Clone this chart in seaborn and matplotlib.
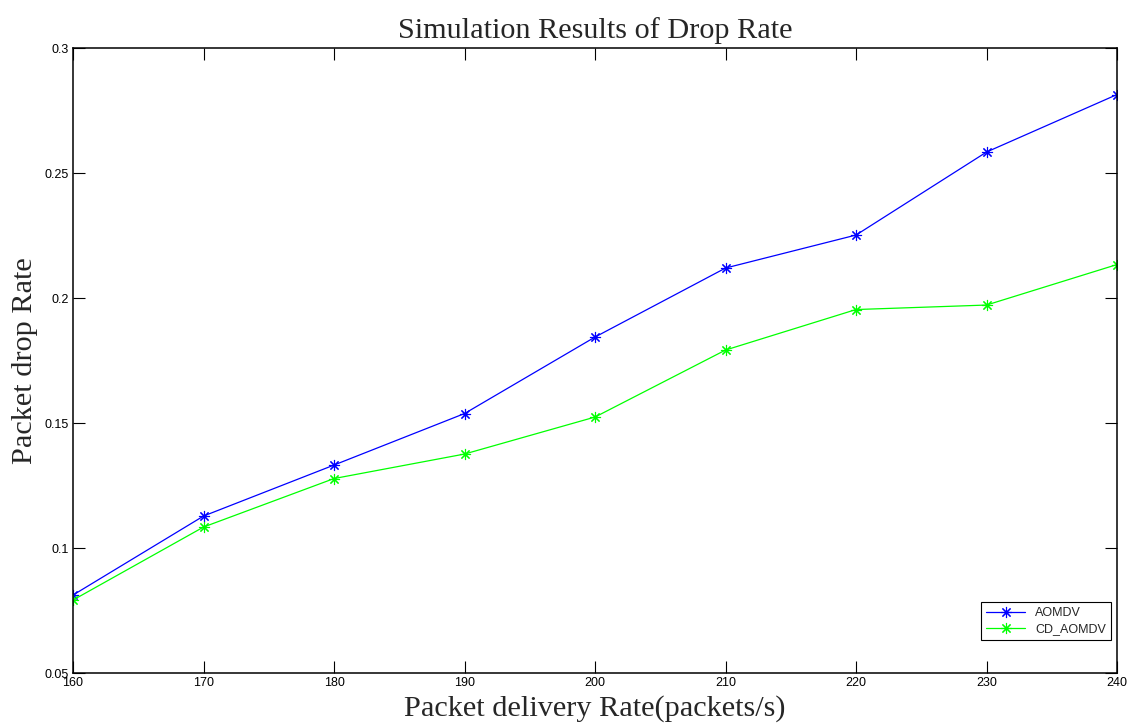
import pandas as pd
import matplotlib
matplotlib.use("Agg")
import matplotlib.pyplot as plt
import seaborn as sns

rate = [160, 170, 180, 190, 200, 210, 220, 230, 240]
aomdv = [0.0812, 0.1128, 0.1332, 0.1538, 0.1844, 0.2120, 0.2252, 0.2584, 0.2814]
cd_aomdv = [0.0792, 0.1084, 0.1278, 0.1376, 0.1524, 0.1792, 0.1954, 0.1972, 0.2134]
series = ["AOMDV", "CD_AOMDV"]
colors = ["#0000ff", "#00ff00"]

data = pd.DataFrame({
    "rate": rate * 2,
    "drop": aomdv + cd_aomdv,
    "protocol": [series[0]] * len(rate) + [series[1]] * len(rate),
})

sns.set_style("ticks")
plt.rcParams["font.family"] = ["Liberation Sans", "DejaVu Sans"]

fig = plt.figure(figsize=(11.36, 7.28), dpi=100)
ax = fig.add_axes([0.0643, 0.0755, 0.919, 0.8585])

# matlab style asterisk marker
star = (8, 2, 0)
sns.lineplot(data=data, x="rate", y="drop", hue="protocol", style="protocol",
             palette=colors, markers=[star, star], dashes=False, markersize=8,
             linewidth=0.9, markeredgewidth=0.8, ax=ax)
# seaborn paints marker edges white, asterisks are edge only
for ln in ax.lines:
    ln.set_markeredgecolor(ln.get_color())

ax.set_xlim(160, 240)
ax.set_ylim(0.05, 0.3)
ax.set_xticks(rate)
ax.set_yticks([0.05, 0.1, 0.15, 0.2, 0.25, 0.3])
ax.set_yticklabels(["0.05", "0.1", "0.15", "0.2", "0.25", "0.3"])
ax.tick_params(direction="in", length=8.5, width=0.8, top=True, right=True,
               labelsize=9, pad=3, colors="black")
for s in ax.spines.values():
    s.set_visible(True)
    s.set_linewidth(1.1)
    s.set_color("black")

serif = ["Liberation Serif", "DejaVu Serif"]
ax.set_title("Simulation Results of Drop Rate", family=serif, fontsize=21.8, pad=7)
ax.set_xlabel("Packet delivery Rate(packets/s)", family=serif, fontsize=21.8, labelpad=4)
ax.set_ylabel("Packet drop Rate", family=serif, fontsize=21.8, labelpad=5)

leg = ax.legend(loc="lower right", bbox_to_anchor=(0.9943, 0.0528), fontsize=9,
                fancybox=False, framealpha=1, edgecolor="black", borderaxespad=0,
                handlelength=3.1, borderpad=0.4, labelspacing=0.3)
leg.get_frame().set_linewidth(0.8)
for ln in leg.get_lines():
    ln.set_markeredgecolor(ln.get_color())

fig.savefig("out.png", dpi=100)
